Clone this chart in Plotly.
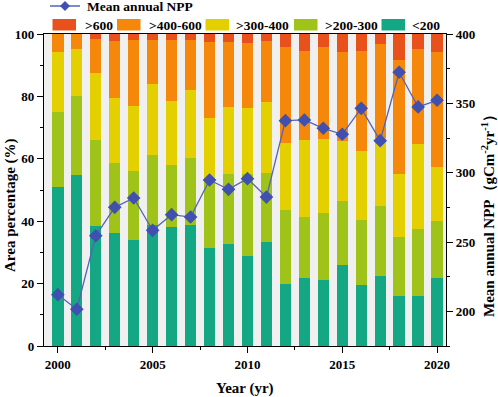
import plotly.graph_objects as go

years = list(range(2000, 2021))

# Area percentage (%) of each NPP class
lt200 = [51.1, 54.8, 38.6, 36.3, 33.9, 38.8, 38.1, 38.7, 31.3, 32.6, 28.9, 33.2, 20.0, 21.8, 21.0, 26.1, 19.4, 22.4, 16.1, 16.1, 21.7]
p200_300 = [23.9, 25.4, 27.4, 22.5, 22.2, 22.4, 20.0, 21.6, 22.7, 22.4, 26.2, 22.2, 23.7, 19.7, 21.7, 20.3, 21.0, 22.4, 18.9, 21.5, 18.3]
p300_400 = [19.1, 15.0, 21.6, 20.8, 20.8, 22.8, 20.4, 21.9, 19.2, 21.5, 21.2, 22.9, 21.4, 24.4, 23.5, 19.3, 22.1, 21.8, 20.2, 27.2, 17.3]
p400_600 = [5.9, 4.8, 10.9, 18.2, 21.2, 14.1, 19.6, 15.9, 24.2, 20.9, 20.9, 19.5, 30.8, 28.7, 29.6, 28.6, 32.1, 30.1, 36.5, 30.4, 36.9]
gt600 = [0.0, 0.0, 1.5, 2.2, 1.9, 1.9, 1.9, 1.9, 2.6, 2.6, 2.8, 2.2, 4.1, 5.4, 4.2, 5.7, 5.4, 3.3, 8.3, 4.8, 5.8]

# Mean annual NPP (gC m-2 yr-1)
mean_npp = [212, 201.5, 254.5, 275, 281.7, 258.4, 269.7, 268, 294.7, 288, 295.7, 282.4,
            337.5, 338, 332, 327.7, 346.4, 323.1, 372.4, 347.4, 352.2]

classes = ["<200", ">200-300", ">300-400", ">400-600", ">600"]
class_values = [lt200, p200_300, p300_400, p400_600, gt600]
class_colors = ["#13A883", "#A0C31A", "#E4D000", "#F5870A", "#E8501C"]
line_name = "Mean annual NPP"
line_color = "#5563B5"
marker_color = "#3F50B0"
top_minor_ticks = [2002.5, 2007.5, 2012.5, 2017.5]

FONT = "Liberation Serif, Times New Roman, serif"

W, H = 498, 397
ML, MR, MT, MB = 44, 52, 34, 51
PW, PH = W - ML - MR, H - MT - MB


def px(x):  # pixel x -> paper
    return (x - ML) / PW


def py(y):  # pixel y -> paper
    return (H - MB - y) / PH


fig = go.Figure()
for name, vals, col in zip(classes, class_values, class_colors):
    fig.add_trace(go.Bar(x=years, y=vals, name=name, marker=dict(color=col, line=dict(width=0)),
                         width=0.6, showlegend=False))

fig.add_trace(go.Scatter(x=years, y=mean_npp, name=line_name, yaxis="y2",
                         mode="lines+markers",
                         line=dict(color=line_color, width=1.3),
                         marker=dict(symbol="diamond", size=10.5, color=marker_color),
                         showlegend=False))

tickfont = dict(family=FONT, size=13, color="black", weight="bold")
titlefont = dict(family=FONT, size=15, color="black", weight="bold")
legfont = dict(family=FONT, size=13.5, color="black", weight="bold")

shapes = []
annotations = []

# Legend: line entry
shapes.append(dict(type="line", xref="paper", yref="paper", x0=px(50), x1=px(80), y0=py(6), y1=py(6),
                   line=dict(color=line_color, width=1.5)))
cx, cy, r = 65, 6, 5
shapes.append(dict(type="path", xref="paper", yref="paper",
                   path=f"M{px(cx)},{py(cy - r)} L{px(cx + r)},{py(cy)} L{px(cx)},{py(cy + r)} L{px(cx - r)},{py(cy)} Z",
                   fillcolor=marker_color, line=dict(width=0)))
annotations.append(dict(text=line_name, xref="paper", yref="paper", x=px(85), y=py(6.5),
                        xanchor="left", yanchor="middle", showarrow=False, font=legfont))

# Legend: bar entries (top class first)
patch_x = [52.5, 117, 205.5, 294, 381.5]
text_x = [83, 146.5, 234, 323, 410]
for i, k in enumerate([4, 3, 2, 1, 0]):
    shapes.append(dict(type="rect", xref="paper", yref="paper", x0=px(patch_x[i]), x1=px(patch_x[i] + 23.5),
                       y0=py(30.5), y1=py(19), fillcolor=class_colors[k], line=dict(width=0)))
    annotations.append(dict(text=classes[k], xref="paper", yref="paper", x=px(text_x[i]), y=py(25),
                            xanchor="left", yanchor="middle", showarrow=False, font=legfont))

# Axis titles
annotations.append(dict(text="Area percentage (%)", xref="paper", yref="paper", x=px(10), y=py(205),
                        xanchor="center", yanchor="middle", textangle=-90, showarrow=False, font=titlefont))
annotations.append(dict(text="Mean annual NPP（gCm<sup>-2</sup>yr<sup>-1</sup>）", xref="paper", yref="paper",
                        x=px(488), y=py(212), xanchor="center", yanchor="middle", textangle=-90,
                        showarrow=False, font=titlefont))
annotations.append(dict(text="Year (yr)", xref="paper", yref="paper", x=px(245), y=py(388),
                        xanchor="center", yanchor="middle", showarrow=False, font=titlefont))

fig.update_layout(
    width=W, height=H,
    margin=dict(l=ML, r=MR, t=MT, b=MB),
    paper_bgcolor="white", plot_bgcolor="#F0F0F0",
    barmode="stack",
    showlegend=False,
    font=dict(family=FONT, color="black"),
    shapes=shapes, annotations=annotations,
    xaxis=dict(range=[1999.27, 2020.47], tickmode="linear", tick0=2000, dtick=5,
               ticks="outside", ticklen=6, tickwidth=1.2, tickcolor="black",
               minor=dict(dtick=2.5, tick0=2000, ticks="outside", ticklen=3, tickcolor="black"),
               showline=True, linecolor="black", linewidth=1.2, mirror=True,
               showgrid=False, zeroline=False, tickfont=tickfont, automargin=False),
    xaxis2=dict(overlaying="x", matches="x", side="top", tickmode="array", tickvals=top_minor_ticks,
                ticks="inside", ticklen=3, tickwidth=1.2, tickcolor="black", showticklabels=False,
                showline=False, showgrid=False, zeroline=False, automargin=False),
    yaxis=dict(range=[0, 100], tickmode="linear", tick0=0, dtick=20,
               ticks="outside", ticklen=6, tickwidth=1.2, tickcolor="black",
               minor=dict(dtick=10, ticks="outside", ticklen=3, tickcolor="black"),
               showline=True, linecolor="black", linewidth=1.2,
               showgrid=False, zeroline=False, tickfont=tickfont, automargin=False),
    yaxis2=dict(range=[175, 400], overlaying="y", side="right", tickmode="linear", tick0=0, dtick=50,
                ticks="outside", ticklen=6, tickwidth=1.2, tickcolor="black",
                minor=dict(dtick=25, ticks="outside", ticklen=3, tickcolor="black"),
                showline=True, linecolor="black", linewidth=1.2,
                showgrid=False, zeroline=False, tickfont=tickfont, automargin=False),
)

fig.write_html("out.html", config={"displayModeBar": False},
               post_script="document.body.style.margin='0';document.body.style.padding='0';")
